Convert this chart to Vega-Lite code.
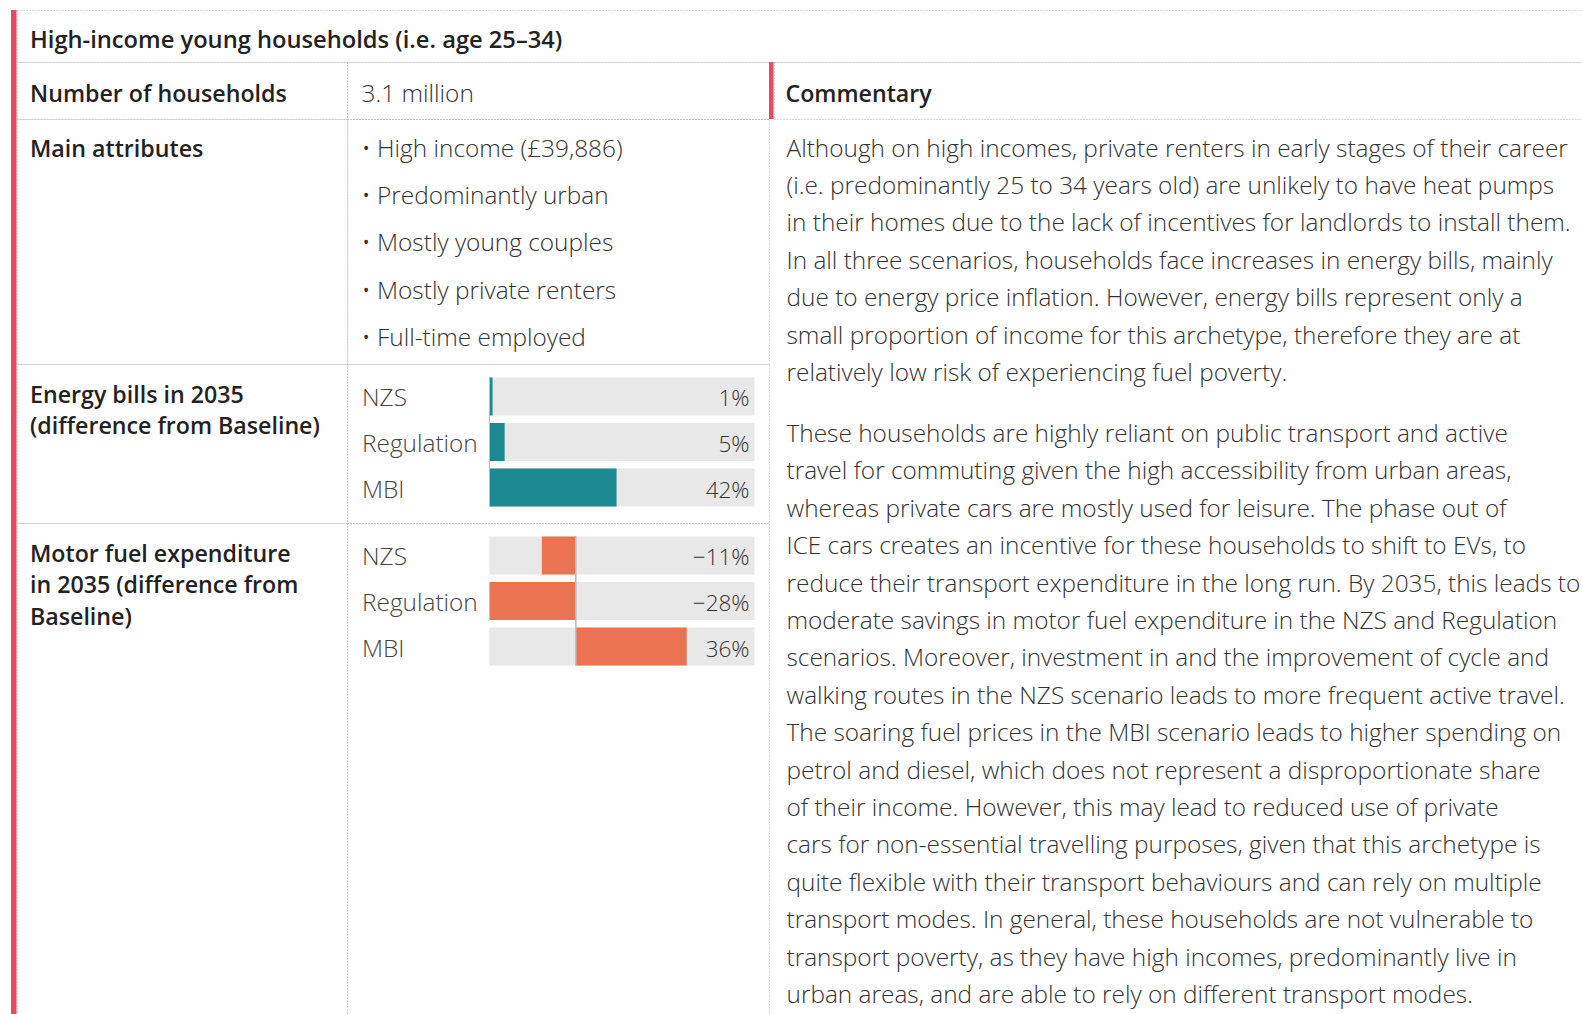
{
  "$schema": "https://vega.github.io/schema/vega-lite/v6.json",
  "background": "#ffffff",
  "padding": {"left": 11, "top": 9, "right": 0, "bottom": 0},
  "data": {"values": [{"archetype": "High-income young households"}]},
  "spacing": 0,
  "bounds": "flush",
  "config": {
    "view": {"stroke": "#b4b4b4", "strokeDash": [1, 2], "strokeWidth": 1},
    "text": {"font": "Open Sans", "fontSize": 24.4, "align": "left", "baseline": "alphabetic"},
    "concat": {"spacing": 0}
  },
  "hconcat": [
    {"width": 5.5, "height": 1005, "view": {"fill": "#e8495f", "stroke": null}, "mark": "text", "encoding": {"text": {"value": ""}}},
    {
      "spacing": 0,
      "bounds": "flush",
      "vconcat": [
        {
          "width": 1565.5,
          "height": 52,
          "data": {"values": [{"title": "High-income young households (i.e. age 25–34)"}]},
          "mark": {"type": "text", "fontWeight": 600, "fontSize": 23.7, "color": "#222222"},
          "encoding": {"x": {"value": 13}, "y": {"value": 37.5}, "text": {"field": "title", "type": "nominal"}}
        },
        {
          "columns": 4,
          "spacing": 0,
          "bounds": "flush",
          "concat": [
            {
              "width": 330,
              "height": 57,
              "data": {"values": [{"label": "Number of households"}]},
              "mark": {"type": "text", "fontWeight": 600, "fontSize": 23.2, "color": "#222222"},
              "encoding": {"x": {"value": 13}, "y": {"value": 40}, "text": {"field": "label", "type": "nominal"}}
            },
            {
              "width": 422,
              "height": 57,
              "data": {"values": [{"value": "3.1 million"}]},
              "mark": {"type": "text", "fontWeight": 300, "color": "#333333"},
              "encoding": {"x": {"value": 14.5}, "y": {"value": 40}, "text": {"field": "value", "type": "nominal"}}
            },
            {"width": 4.5, "height": 57, "view": {"fill": "#e8495f", "stroke": null}, "mark": "text", "encoding": {"text": {"value": ""}}},
            {
              "width": 809,
              "height": 57,
              "data": {"values": [{"label": "Commentary"}]},
              "mark": {"type": "text", "fontWeight": 600, "fontSize": 23.2, "color": "#222222"},
              "encoding": {"x": {"value": 11.5}, "y": {"value": 40}, "text": {"field": "label", "type": "nominal"}}
            },

            {
              "width": 330,
              "height": 245,
              "data": {"values": [{"label": "Main attributes"}]},
              "mark": {"type": "text", "fontWeight": 600, "fontSize": 23.2, "color": "#222222"},
              "encoding": {"x": {"value": 13}, "y": {"value": 37.5}, "text": {"field": "label", "type": "nominal"}}
            },
            {
              "width": 422,
              "height": 245,
              "data": {"values": [{"attributes": ["• High income (£39,886)", "• Predominantly urban", "• Mostly young couples", "• Mostly private renters", "• Full-time employed"]}]},
              "mark": {"type": "text", "fontWeight": 300, "color": "#333333", "lineHeight": 47.4},
              "encoding": {"x": {"value": 14.5}, "y": {"value": 37.5}, "text": {"field": "attributes", "type": "nominal"}}
            },
            {"width": 4.5, "height": 245, "view": {"stroke": null}, "mark": "text", "encoding": {"text": {"value": ""}}},
            {
              "width": 809,
              "height": 245,
              "view": {"stroke": null},
              "data": {"values": [
                {"para": 1, "lines": [
                  "Although on high incomes, private renters in early stages of their career",
                  "(i.e. predominantly 25 to 34 years old) are unlikely to have heat pumps",
                  "in their homes due to the lack of incentives for landlords to install them.",
                  "In all three scenarios, households face increases in energy bills, mainly",
                  "due to energy price inflation. However, energy bills represent only a",
                  "small proportion of income for this archetype, therefore they are at",
                  "relatively low risk of experiencing fuel poverty."
                ]},
                {"para": 2, "lines": [
                  "These households are highly reliant on public transport and active",
                  "travel for commuting given the high accessibility from urban areas,",
                  "whereas private cars are mostly used for leisure. The phase out of",
                  "ICE cars creates an incentive for these households to shift to EVs, to",
                  "reduce their transport expenditure in the long run. By 2035, this leads to",
                  "moderate savings in motor fuel expenditure in the NZS and Regulation",
                  "scenarios. Moreover, investment in and the improvement of cycle and",
                  "walking routes in the NZS scenario leads to more frequent active travel.",
                  "The soaring fuel prices in the MBI scenario leads to higher spending on",
                  "petrol and diesel, which does not represent a disproportionate share",
                  "of their income. However, this may lead to reduced use of private",
                  "cars for non-essential travelling purposes, given that this archetype is",
                  "quite flexible with their transport behaviours and can rely on multiple",
                  "transport modes. In general, these households are not vulnerable to",
                  "transport poverty, as they have high incomes, predominantly live in",
                  "urban areas, and are able to rely on different transport modes."
                ]}
              ]},
              "mark": {"type": "text", "fontWeight": 300, "color": "#333333", "lineHeight": 37.4},
              "encoding": {
                "x": {"value": 12.5},
                "y": {"field": "para", "type": "ordinal", "scale": {"type": "point", "range": [37.5, 323], "padding": 0}, "axis": null},
                "text": {"field": "lines", "type": "nominal"}
              }
            },

            {
              "width": 330,
              "height": 159,
              "data": {"values": [{"label": ["Energy bills in 2035", "(difference from Baseline)"]}]},
              "mark": {"type": "text", "fontWeight": 600, "fontSize": 23.2, "color": "#222222", "lineHeight": 31.3},
              "encoding": {"x": {"value": 13}, "y": {"value": 38.5}, "text": {"field": "label", "type": "nominal"}}
            },
            {
              "width": 422,
              "height": 159,
              "data": {"values": [
                {"scenario": "NZS", "change": 0.01},
                {"scenario": "Regulation", "change": 0.05},
                {"scenario": "MBI", "change": 0.42}
              ]},
              "encoding": {
                "y": {"field": "scenario", "type": "nominal", "sort": ["NZS", "Regulation", "MBI"], "scale": {"type": "band", "range": [13.5, 142.5], "paddingInner": 0.165, "paddingOuter": 0}, "axis": null}
              },
              "layer": [
                {
                  "mark": {"type": "bar", "color": "#e8e8e8"},
                  "encoding": {
                    "x": {"datum": 0, "type": "quantitative", "scale": {"domain": [0, 0.876], "range": [142.5, 407.5], "nice": false, "zero": false}, "axis": null},
                    "x2": {"datum": 0.876}
                  }
                },
                {
                  "mark": {"type": "bar", "color": "#1c8890"},
                  "encoding": {
                    "x": {"field": "change", "type": "quantitative", "axis": null},
                    "x2": {"datum": 0}
                  }
                },
                {
                  "mark": {"type": "rule", "color": "#bdbdbd", "strokeWidth": 1},
                  "encoding": {
                    "x": {"datum": 0, "type": "quantitative"},
                    "y": {"datum": "NZS", "bandPosition": 0},
                    "y2": {"datum": "MBI", "bandPosition": 1}
                  }
                },
                {
                  "mark": {"type": "text", "fontWeight": 300, "color": "#444444", "baseline": "middle", "dy": 3},
                  "encoding": {"x": {"value": 15}, "text": {"field": "scenario", "type": "nominal"}}
                },
                {
                  "mark": {"type": "text", "fontWeight": 300, "fontSize": 22.5, "color": "#333333", "baseline": "middle", "align": "right", "dx": -5, "dy": 3},
                  "encoding": {"x": {"datum": 0.876, "type": "quantitative"}, "text": {"field": "change", "type": "quantitative", "format": ".0%"}}
                }
              ]
            },
            {"width": 4.5, "height": 159, "view": {"stroke": null}, "mark": "text", "encoding": {"text": {"value": ""}}},
            {"width": 809, "height": 159, "view": {"stroke": null}, "mark": "text", "encoding": {"text": {"value": ""}}},

            {
              "width": 330,
              "height": 492,
              "data": {"values": [{"label": ["Motor fuel expenditure", "in 2035 (difference from", "Baseline)"]}]},
              "mark": {"type": "text", "fontWeight": 600, "fontSize": 23.2, "color": "#222222", "lineHeight": 31.6},
              "encoding": {"x": {"value": 13}, "y": {"value": 38.5}, "text": {"field": "label", "type": "nominal"}}
            },
            {
              "width": 422,
              "height": 492,
              "data": {"values": [
                {"scenario": "NZS", "change": -0.11},
                {"scenario": "Regulation", "change": -0.28},
                {"scenario": "MBI", "change": 0.36}
              ]},
              "encoding": {
                "y": {"field": "scenario", "type": "nominal", "sort": ["NZS", "Regulation", "MBI"], "scale": {"type": "band", "range": [13.5, 142.5], "paddingInner": 0.165, "paddingOuter": 0}, "axis": null}
              },
              "layer": [
                {
                  "mark": {"type": "bar", "color": "#e8e8e8"},
                  "encoding": {
                    "x": {"datum": -0.28, "type": "quantitative", "scale": {"domain": [-0.28, 0.58], "range": [142.5, 407.5], "nice": false, "zero": false}, "axis": null},
                    "x2": {"datum": 0.58}
                  }
                },
                {
                  "mark": {"type": "bar", "color": "#ec7351"},
                  "encoding": {
                    "x": {"field": "change", "type": "quantitative", "axis": null},
                    "x2": {"datum": 0}
                  }
                },
                {
                  "mark": {"type": "rule", "color": "#bdbdbd", "strokeWidth": 1},
                  "encoding": {
                    "x": {"datum": 0, "type": "quantitative"},
                    "y": {"datum": "NZS", "bandPosition": 0},
                    "y2": {"datum": "MBI", "bandPosition": 1}
                  }
                },
                {
                  "mark": {"type": "text", "fontWeight": 300, "color": "#444444", "baseline": "middle", "dy": 3},
                  "encoding": {"x": {"value": 15}, "text": {"field": "scenario", "type": "nominal"}}
                },
                {
                  "mark": {"type": "text", "fontWeight": 300, "fontSize": 22.5, "color": "#333333", "baseline": "middle", "align": "right", "dx": -5, "dy": 3},
                  "encoding": {"x": {"datum": 0.58, "type": "quantitative"}, "text": {"field": "change", "type": "quantitative", "format": ".0%"}}
                }
              ]
            },
            {"width": 4.5, "height": 492, "view": {"stroke": null}, "mark": "text", "encoding": {"text": {"value": ""}}},
            {"width": 809, "height": 492, "view": {"stroke": null}, "mark": "text", "encoding": {"text": {"value": ""}}}
          ]
        }
      ]
    }
  ]
}
